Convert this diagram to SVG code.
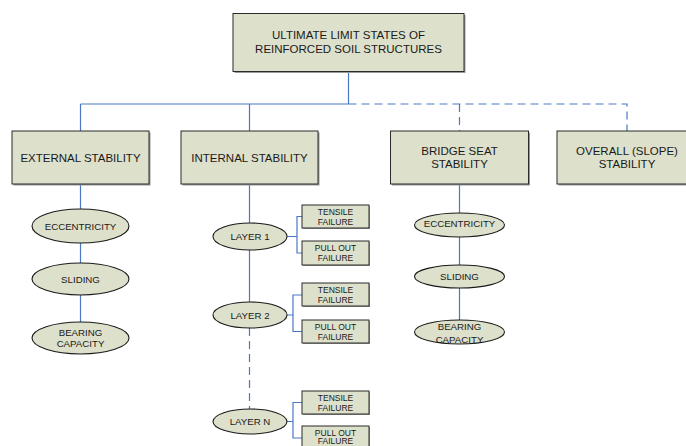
<svg xmlns="http://www.w3.org/2000/svg" width="686" height="446" viewBox="0 0 686 446">
<defs>
<style>
.box{fill:#dde0cb;stroke:#2a2a2a;stroke-width:1}
.shadow{fill:#9a9a9a}
.ell{fill:#dde0cb;stroke:#1a1a1a;stroke-width:1.1}
.ln{fill:none;stroke:#4a78c5;stroke-width:1.2}
.dash{stroke-dasharray:8 5}
text{font-family:"Liberation Sans",Arial,sans-serif;fill:#1a1a1a;text-anchor:middle;dominant-baseline:central}
.t1{font-size:11.5px}
.t2{font-size:9.7px}
.t3{font-size:8.5px}
</style>
</defs>
<rect width="686" height="446" fill="#ffffff"/>
<g id="connectors">
<path class="ln" d="M348.5,71 V104 M80.5,104 H348.5 M80.5,104 V131 M249.5,104 V131"/>
<path class="ln dash" d="M348.5,104 H627 V131 M459.5,104 V131"/>
<path class="ln" d="M80.5,184 V209 M80.5,243 V263 M80.5,295 V322"/>
<path class="ln" d="M249.5,184 V223 M249.5,250 V302"/>
<path class="ln dash" d="M249.5,328 V409"/>
<path class="ln" d="M459.5,184 V213 M459.5,237 V265 M459.5,288 V320"/>
<path class="ln" d="M287,236.5 H297 M302,216.5 H297 V253 H302"/>
<path class="ln" d="M287,315 H293 M302,295 H293 V331.5 H302"/>
<path class="ln" d="M287,421.5 H293 M302,402.5 H293 V438 H302"/>
</g>
<g id="root">
<rect class="shadow" x="234.5" y="15" width="231" height="58"/>
<rect class="box" x="233" y="13.5" width="231" height="58"/>
<text class="t1" x="348.5" y="35">ULTIMATE LIMIT STATES OF</text>
<text class="t1" x="348.5" y="49">REINFORCED SOIL STRUCTURES</text>
</g>
<g id="external">
<rect class="shadow" x="13.5" y="132.5" width="137" height="53"/>
<rect class="box" x="12" y="131" width="137" height="53"/>
<text class="t1" x="80.5" y="157.5">EXTERNAL STABILITY</text>
</g>
<g id="internal">
<rect class="shadow" x="182.5" y="132.5" width="137" height="53"/>
<rect class="box" x="181" y="131" width="137" height="53"/>
<text class="t1" x="249.5" y="157.5">INTERNAL STABILITY</text>
</g>
<g id="bridge">
<rect class="shadow" x="392" y="132.5" width="138" height="53"/>
<rect class="box" x="390.5" y="131" width="138" height="53"/>
<text class="t1" x="459.5" y="151">BRIDGE SEAT</text>
<text class="t1" x="459.5" y="164">STABILITY</text>
</g>
<g id="overall">
<rect class="shadow" x="558.5" y="132.5" width="138" height="53"/>
<rect class="box" x="557" y="131" width="138" height="53"/>
<text class="t1" x="627" y="151">OVERALL (SLOPE)</text>
<text class="t1" x="627" y="164">STABILITY</text>
</g>
<g id="ext-eccentricity">
<ellipse class="ell" cx="80.5" cy="226" rx="48.5" ry="17"/>
<text class="t2" x="80.5" y="226">ECCENTRICITY</text>
</g>
<g id="ext-sliding">
<ellipse class="ell" cx="80.5" cy="279" rx="48.5" ry="16"/>
<text class="t2" x="80.5" y="279">SLIDING</text>
</g>
<g id="ext-bearing">
<ellipse class="ell" cx="80.5" cy="338" rx="48.5" ry="16"/>
<text class="t2" x="80.5" y="332">BEARING</text>
<text class="t2" x="80.5" y="343.5">CAPACITY</text>
</g>
<g id="layer1">
<ellipse class="ell" cx="250" cy="236.5" rx="37" ry="13.5"/>
<text class="t2" x="250" y="236.5">LAYER 1</text>
</g>
<g id="layer2">
<ellipse class="ell" cx="250" cy="315" rx="37" ry="13"/>
<text class="t2" x="250" y="315">LAYER 2</text>
</g>
<g id="layerN">
<ellipse class="ell" cx="250" cy="421.5" rx="37" ry="12.5"/>
<text class="t2" x="250" y="421.5">LAYER N</text>
</g>
<g id="tensile1">
<rect class="shadow" x="303" y="206" width="67" height="23"/>
<rect class="box" x="302" y="205" width="67" height="23"/>
<text class="t3" x="335.5" y="211.7">TENSILE</text>
<text class="t3" x="335.5" y="221.7">FAILURE</text>
</g>
<g id="pullout1">
<rect class="shadow" x="303" y="242" width="67" height="24"/>
<rect class="box" x="302" y="241" width="67" height="24"/>
<text class="t3" x="335.5" y="248">PULL OUT</text>
<text class="t3" x="335.5" y="258">FAILURE</text>
</g>
<g id="tensile2">
<rect class="shadow" x="303" y="284" width="67" height="23"/>
<rect class="box" x="302" y="283" width="67" height="23"/>
<text class="t3" x="335.5" y="289.7">TENSILE</text>
<text class="t3" x="335.5" y="299.7">FAILURE</text>
</g>
<g id="pullout2">
<rect class="shadow" x="303" y="321" width="67" height="23"/>
<rect class="box" x="302" y="320" width="67" height="23"/>
<text class="t3" x="335.5" y="326.7">PULL OUT</text>
<text class="t3" x="335.5" y="336.7">FAILURE</text>
</g>
<g id="tensileN">
<rect class="shadow" x="303" y="392" width="67" height="23"/>
<rect class="box" x="302" y="391" width="67" height="23"/>
<text class="t3" x="335.5" y="397.7">TENSILE</text>
<text class="t3" x="335.5" y="407.7">FAILURE</text>
</g>
<g id="pulloutN">
<rect class="shadow" x="303" y="427" width="67" height="24"/>
<rect class="box" x="302" y="426" width="67" height="24"/>
<text class="t3" x="335.5" y="432.5">PULL OUT</text>
<text class="t3" x="335.5" y="441.3">FAILURE</text>
</g>
<g id="br-eccentricity">
<ellipse class="ell" cx="459.5" cy="225" rx="45" ry="12"/>
<text class="t2" x="459.5" y="223">ECCENTRICITY</text>
</g>
<g id="br-sliding">
<ellipse class="ell" cx="459.5" cy="276.5" rx="45" ry="11.5"/>
<text class="t2" x="459.5" y="276">SLIDING</text>
</g>
<g id="br-bearing">
<ellipse class="ell" cx="459.5" cy="332" rx="45" ry="12"/>
<text class="t2" x="459.5" y="326.7">BEARING</text>
<text class="t2" x="459.5" y="339.3">CAPACITY</text>
</g>
</svg>
